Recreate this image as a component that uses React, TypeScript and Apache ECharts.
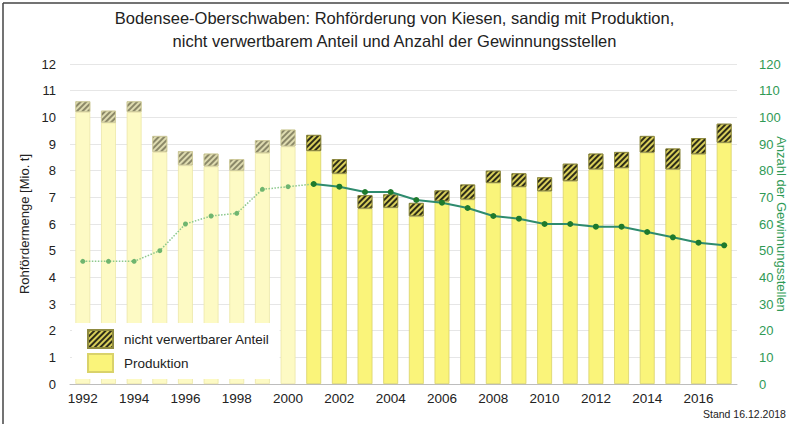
import React, { useEffect, useRef } from "react";
import * as echarts from "echarts";

const years = ["1992","1993","1994","1995","1996","1997","1998","1999","2000","2001","2002","2003","2004","2005","2006","2007","2008","2009","2010","2011","2012","2013","2014","2015","2016","2017"];
const production = [10.2, 9.8, 10.2, 8.7, 8.2, 8.16, 8.0, 8.66, 8.91, 8.74, 7.89, 6.58, 6.61, 6.29, 6.85, 6.92, 7.54, 7.39, 7.23, 7.61, 8.05, 8.1, 8.68, 8.05, 8.62, 9.05];
const nonUsable = [0.4, 0.45, 0.4, 0.6, 0.53, 0.48, 0.43, 0.48, 0.63, 0.6, 0.54, 0.5, 0.5, 0.5, 0.41, 0.56, 0.46, 0.51, 0.52, 0.65, 0.59, 0.6, 0.62, 0.78, 0.6, 0.71];
const sites = [46, 46, 46, 50, 60, 63, 64, 73, 74, 75, 74, 72, 72, 69, 68, 66, 63, 62, 60, 60, 59, 59, 57, 55, 53, 52];
const firstSolidYear = 2001;

const titleText = "Bodensee-Oberschwaben: Rohförderung von Kiesen, sandig mit Produktion,\nnicht verwertbarem Anteil und Anzahl der Gewinnungsstellen";
const standText = "Stand 16.12.2018";
const FONT = "Liberation Sans, Arial, sans-serif";

export default function App() {
  const ref = useRef<HTMLDivElement>(null);
  useEffect(() => {
    if (!ref.current) return;
    const chart = echarts.init(ref.current, undefined, { renderer: "svg" });
    const isPale = (i: number) => Number(years[i]) < firstSolidYear;

    const hatch = (pale: boolean) => ({
      symbol: "rect",
      symbolSize: 1,
      dashArrayX: [1, 0],
      dashArrayY: [2, 2],
      rotation: -Math.PI / 4,
      color: pale ? "rgba(110,108,80,0.75)" : "#2e2d18",
    });

    const prodData = production.map((v, i) => ({
      value: v,
      itemStyle: isPale(i)
        ? { color: "#fdfac4", borderColor: "#ece7a8", borderWidth: 0.8 }
        : { color: "#faf47a", borderColor: "#d9d26a", borderWidth: 0.8 },
    }));
    const nonData = nonUsable.map((v, i) => ({
      value: v,
      itemStyle: isPale(i)
        ? { color: "#dedbb0", borderColor: "#cfcb9a", borderWidth: 0.8, decal: hatch(true) }
        : { color: "#d9cf5a", borderColor: "#8e8a40", borderWidth: 0.8, decal: hatch(false) },
    }));
    const dottedLine = sites.map((v, i) => (Number(years[i]) <= firstSolidYear ? v : null));
    const solidLine = sites.map((v, i) => (Number(years[i]) >= firstSolidYear ? v : null));

    chart.setOption({
      animation: false,
      textStyle: { fontFamily: FONT },
      title: {
        text: titleText,
        left: "center",
        top: 1,
        textStyle: { fontSize: 16.5, fontWeight: "normal", color: "#222", lineHeight: 23, fontFamily: FONT },
      },
      legend: {
        orient: "vertical",
        left: 72,
        top: 323,
        backgroundColor: "#ffffff",
        padding: [6, 10, 6, 15],
        itemGap: 4,
        itemWidth: 25,
        itemHeight: 18,
        icon: "rect",
        data: ["nicht verwertbarer Anteil", "Produktion"],
        textStyle: { fontSize: 13.5, color: "#222", fontFamily: FONT, padding: [0, 0, 0, 6] },
      },
      grid: { left: 70, right: 52, top: 64, bottom: 40, outerBoundsMode: "none", containLabel: false },
      xAxis: {
        type: "category",
        data: years,
        axisLine: { lineStyle: { color: "#bdbdbd" } },
        axisTick: { alignWithLabel: true, interval: 1, length: 4, lineStyle: { color: "#999" } },
        axisLabel: { interval: 1, color: "#222", fontSize: 13.5, margin: 7, fontFamily: FONT },
      },
      yAxis: [
        {
          type: "value",
          min: 0,
          max: 12,
          interval: 1,
          name: "Rohfördermenge [Mio. t]",
          nameLocation: "middle",
          nameGap: 38,
          nameTextStyle: { fontSize: 13, color: "#222", fontFamily: FONT },
          axisLabel: { color: "#222", fontSize: 13, margin: 14, fontFamily: FONT },
          axisLine: { show: false },
          axisTick: { show: false },
          splitLine: { lineStyle: { color: "#e6e6e6" } },
        },
        {
          type: "value",
          min: 0,
          max: 120,
          interval: 10,
          position: "right",
          name: "Anzahl der Gewinnungsstellen",
          nameLocation: "middle",
          nameRotate: -90,
          nameGap: 38,
          nameMoveOverlap: false,
          nameTextStyle: { fontSize: 13, color: "#2f9a55", fontFamily: FONT },
          axisLabel: { color: "#2f9a55", fontSize: 13, margin: 22, fontFamily: FONT },
          axisLine: { show: false },
          axisTick: { show: false },
          splitLine: { show: false },
        },
      ],
      series: [
        {
          name: "Produktion",
          type: "bar",
          stack: "t",
          barWidth: "58%",
          itemStyle: { color: "#faf47a", borderColor: "#d9d26a", borderWidth: 0.8 },
          data: prodData,
        },
        {
          name: "nicht verwertbarer Anteil",
          type: "bar",
          stack: "t",
          itemStyle: { color: "#d9cf5a", borderColor: "#8e8a40", borderWidth: 0.8, decal: hatch(false) },
          data: nonData,
        },
        {
          name: "Gewinnungsstellen bis 2001",
          type: "line",
          yAxisIndex: 1,
          data: dottedLine,
          symbol: "circle",
          symbolSize: 5,
          lineStyle: { type: "dotted", width: 1.5, color: "#8cc88c" },
          itemStyle: { color: "#6fb56f" },
          z: 5,
        },
        {
          name: "Gewinnungsstellen",
          type: "line",
          yAxisIndex: 1,
          data: solidLine,
          symbol: "circle",
          symbolSize: 6,
          lineStyle: { width: 2, color: "#2e8b6e" },
          itemStyle: { color: "#1e7a2c" },
          z: 6,
        },
      ],
      graphic: [
        { type: "line", shape: { x1: 3, y1: 3, x2: 789, y2: 3 }, style: { stroke: "#444", lineWidth: 1.5 } },
        { type: "line", shape: { x1: 3, y1: 3, x2: 3, y2: 424 }, style: { stroke: "#444", lineWidth: 1.5 } },
        {
          type: "text",
          x: 703,
          y: 408,
          style: { text: standText, fontSize: 10.5, fill: "#222", fontFamily: FONT },
        },
      ],
    });
    return () => chart.dispose();
  }, []);
  return <div ref={ref} style={{ position: "absolute", left: 0, top: 0, width: 789, height: 424 }} />;
}
